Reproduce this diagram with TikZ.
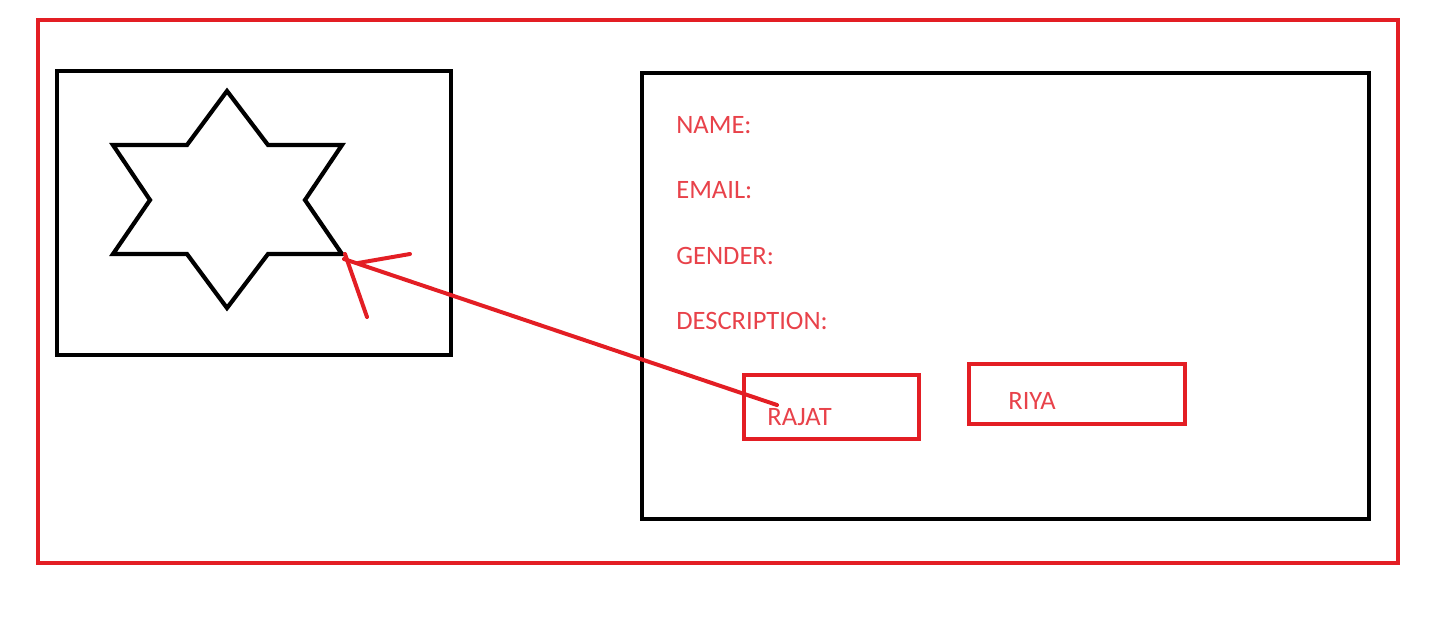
\documentclass[tikz,border=0pt]{standalone}
\usepackage{fontspec}
\setmainfont{Carlito}
\usepackage{tikz}
\usetikzlibrary{arrows.meta, calc, positioning}
\usepackage{xcolor}
\definecolor{frame red}{HTML}{E31E24}
\definecolor{label red}{HTML}{E8424A}

\begin{document}
\begin{tikzpicture}[x=0.02cm, y=-0.02cm,
  redbox/.style={draw=frame red, line width=4.2pt*0.567},
  blackbox/.style={draw=black, line width=4.2pt*0.567},
  fieldtext/.style={anchor=base west, inner sep=0pt, text=label red, font=\fontsize{15.1}{17}\selectfont},
  pointer/.style={draw=frame red, line width=4pt*0.567, line cap=round}]
  \useasboundingbox (0,0) rectangle (1443,633);

  % outer frame
  \draw[redbox] (38,20) rectangle (1398,563);

  % picture box with star
  \draw[blackbox] (57,71) rectangle (451,355);
  \coordinate (star tip) at (342,254);
  \draw[blackbox, line join=miter] (227,91) -- (268,145) -- (342,145) -- (305,200)
    -- (star tip) -- (268,254) -- (227,308) -- (187,254) -- (113,254)
    -- (150,200) -- (113,145) -- (187,145) -- cycle;

  % details box
  \draw[blackbox] (642,73) rectangle (1369,519);
  \node[fieldtext] (name) at (676,133) {NAME:};
  \node[fieldtext] (email) at (676,198) {EMAIL:};
  \node[fieldtext] (gender) at (676,264) {GENDER:};
  \node[fieldtext] (descr) at (676,329) {DESCRIPTION:};

  % name buttons
  \draw[redbox] (744,375) rectangle (919,439);
  \node[fieldtext] (rajat) at (767,425) {RAJAT};
  \draw[redbox] (969,364) rectangle (1185,424);
  \node[fieldtext] (riya) at (1008,409) {RIYA};

  % hand drawn arrow
  \coordinate (from) at (777,405);
  \coordinate (head a) at (410,254);
  \coordinate (head b) at (367,317);
  \draw[pointer] (from) -- ($(star tip)+(2,5)$);
  \draw[pointer] ($(star tip)+(16,9)$) -- (head a);
  \draw[pointer] ($(star tip)+(3,0)$) -- (head b);
\end{tikzpicture}
\end{document}
